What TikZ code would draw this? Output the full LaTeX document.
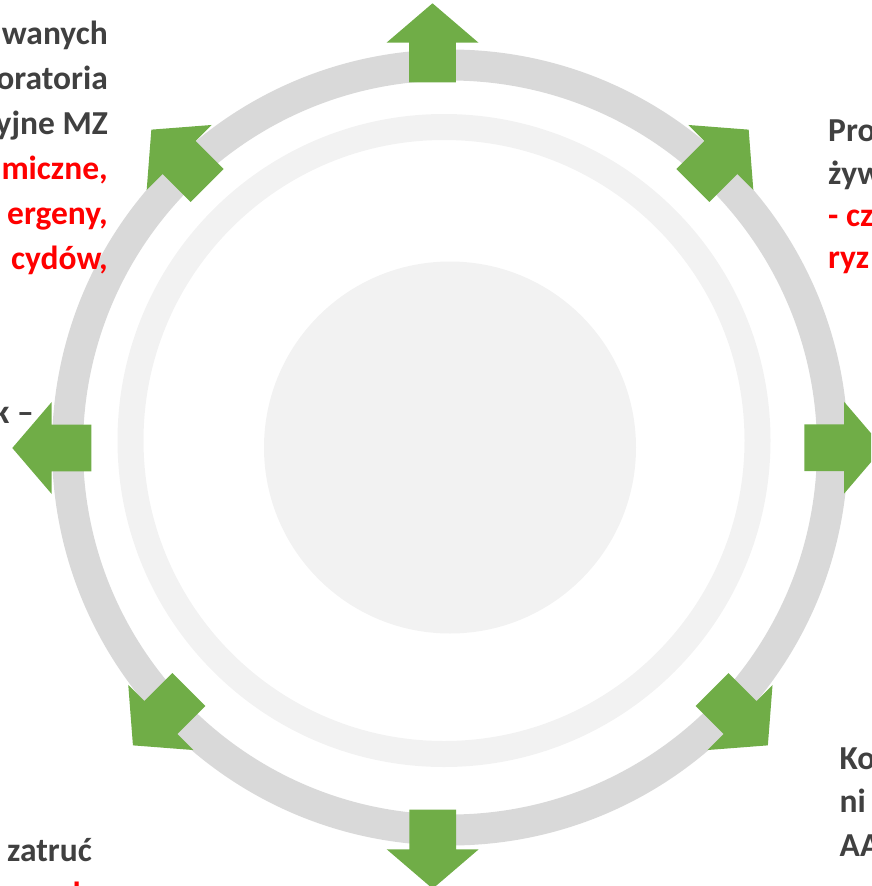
\documentclass[tikz,border=0pt]{standalone}
\usepackage{fontspec}
\setmainfont{Carlito}
\definecolor{textgrey}{HTML}{404040}
\definecolor{textred}{HTML}{FF0000}
\definecolor{arrowgreen}{HTML}{70AD47}
\definecolor{ringgrey}{HTML}{D9D9D9}
\definecolor{ringlight}{HTML}{F2F2F2}
\tikzset{
  txt/.style={inner sep=0pt, font=\fontsize{33.5}{40}\selectfont\bfseries, text=textgrey},
  rtxt/.style={txt, text=textred},
  garrow/.pic={\fill[arrowgreen] (-39.6,-23.3) -- (0,-23.3) -- (0,-46) -- (39.4,0) -- (0,46) -- (0,23.3) -- (-39.6,23.3) -- cycle;}
}
\begin{document}
\begin{tikzpicture}[x=1pt,y=-1pt]
\useasboundingbox (0,0) rectangle (871,886);
\clip (0,0) rectangle (871,886);
\coordinate (c) at (450,447.5);
\coordinate (c2) at (444,440.5);
% rings and disc
\draw[ringgrey, line width=31pt] (c) circle (382.5pt);
\draw[ringlight, line width=26pt] (c2) circle (313.5pt);
\fill[ringlight] (c) circle (186pt);
% arrows
\pic[rotate=90]   at (432.5,42.7)  {garrow};
\pic[rotate=45]   at (720.8,157.5) {garrow};
\pic[rotate=0]    at (844,447.7)   {garrow};
\pic[rotate=-45]  at (740,717.5)   {garrow};
\pic[rotate=-90]  at (432.7,849.3) {garrow};
\pic[rotate=-135] at (160.8,717.5) {garrow};
\pic[rotate=180]  at (51.7,448)    {garrow};
\pic[rotate=135]  at (179.2,157.5) {garrow};
% top-left text
\node[txt,  anchor=base east] (tl1) at (108,44)  {wanych};
\node[txt,  anchor=base east] (tl2) at (108,89)  {oratoria};
\node[txt,  anchor=base east] (tl3) at (108,134) {yjne MZ};
\node[rtxt, anchor=base east] (tl4) at (108,179) {miczne,};
\node[rtxt, anchor=base east] (tl5) at (108,224) {ergeny,};
\node[rtxt, anchor=base east] (tl6) at (108,269) {cydów,};
% left text
\node[txt, anchor=base east] (ml1) at (34,423) {k –};
% top-right text
\node[txt,  anchor=base west] (tr1) at (828,141.5) {Pro};
\node[txt,  anchor=base west] (tr2) at (828,184) {żyw};
\node[rtxt, anchor=base west] (tr3) at (828,226) {- cz};
\node[rtxt, anchor=base west] (tr4) at (828,268.5) {ryz};
% bottom-right text
\node[txt, anchor=base west] (br1) at (839.5,769.5) {Ko};
\node[txt, anchor=base west] (br2) at (839.5,812.7) {ni};
\node[txt, anchor=base west] (br3) at (839.5,856)   {AA};
% bottom-left text
\node[txt,  anchor=base east] (bl1) at (92,861.7) {zatruć};
\node[rtxt, anchor=base west] (bl2) at (72.5,905.7) {l};
\end{tikzpicture}
\end{document}
